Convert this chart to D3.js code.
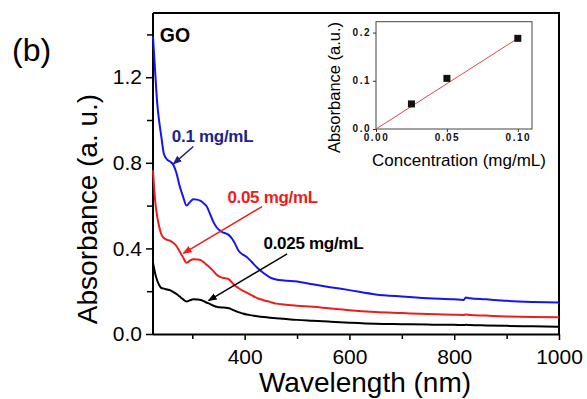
<!DOCTYPE html>
<html>
<head>
<meta charset="utf-8">
<script src="https://cdn.jsdelivr.net/npm/d3@7"></script>
<style>
  html, body { margin: 0; padding: 0; background: #fff; }
  svg { display: block; font-family: Arial, "Liberation Sans", Helvetica, sans-serif; }
</style>
</head>
<body>
<svg id="chart" width="587" height="399"></svg>
<script>
// UV-vis absorption spectra of GO dispersions at three concentrations
const wavelength = [225, 229, 233, 237, 241, 246, 252, 258, 264, 270, 276, 282, 289, 295, 302, 309, 316, 322, 328, 334,
  340, 346, 352, 358, 364, 370, 376, 382, 388, 396, 404, 414, 424, 436, 448, 460, 475, 500, 530, 560,
  600, 650, 700, 750, 800, 818, 822, 830, 860, 900, 950, 1000];

const abs010 = [1.39, 1.23, 1.08, 0.99, 0.92, 0.84, 0.815, 0.805, 0.79, 0.75, 0.69, 0.645, 0.60, 0.615, 0.63, 0.628, 0.622, 0.61, 0.595, 0.56,
  0.525, 0.50, 0.485, 0.475, 0.47, 0.462, 0.445, 0.42, 0.39, 0.372, 0.36, 0.335, 0.31, 0.285, 0.265, 0.255, 0.25, 0.245, 0.232, 0.22,
  0.205, 0.185, 0.175, 0.167, 0.162, 0.159, 0.17, 0.167, 0.162, 0.155, 0.15, 0.147];

const abs005 = [0.765, 0.626, 0.55, 0.50, 0.465, 0.448, 0.44, 0.435, 0.425, 0.41, 0.385, 0.36, 0.333, 0.342, 0.349, 0.348, 0.345, 0.335, 0.322, 0.31,
  0.295, 0.278, 0.268, 0.263, 0.26, 0.255, 0.24, 0.225, 0.215, 0.203, 0.193, 0.18, 0.168, 0.158, 0.15, 0.142, 0.138, 0.132, 0.127, 0.12,
  0.111, 0.103, 0.098, 0.093, 0.09, 0.089, 0.091, 0.089, 0.086, 0.082, 0.079, 0.078];

const abs0025 = [0.333, 0.284, 0.25, 0.228, 0.215, 0.212, 0.208, 0.204, 0.196, 0.187, 0.175, 0.163, 0.152, 0.157, 0.162, 0.161, 0.159, 0.153, 0.146, 0.14,
  0.133, 0.127, 0.125, 0.124, 0.123, 0.12, 0.114, 0.108, 0.102, 0.096, 0.091, 0.087, 0.083, 0.079, 0.076, 0.074, 0.071, 0.066, 0.062, 0.058,
  0.053, 0.048, 0.046, 0.044, 0.043, 0.042, 0.043, 0.042, 0.04, 0.038, 0.036, 0.034];

const seriesLabels = ["0.1 mg/mL", "0.05 mg/mL", "0.025 mg/mL"];
const xTicks = [400, 600, 800, 1000];
const xMinorTicks = [300, 500, 700, 900];
const yTicks = [0.0, 0.4, 0.8, 1.2];
const yMinorTicks = [0.2, 0.6, 1.0, 1.4];

// calibration inset: absorbance vs concentration
const concentration = [0.025, 0.05, 0.10];
const absAtPeak = [0.052, 0.105, 0.188];
const fitSlope = 1.88;
const fitIntercept = 0.0;
const insetXTicks = [0.00, 0.05, 0.10];
const insetYTicks = [0.0, 0.1, 0.2];

const svg = d3.select("#chart");

const x = d3.scaleLinear().domain([225, 1000]).range([153, 559]);
const y = d3.scaleLinear().domain([0, 1.5]).range([334, 13]);

const BLUE = "#1414f5", NAVY = "#1f1f8c", RED = "#ee1c1c", BLACK = "#000";

// arrowhead markers
const defs = svg.append("defs");
[["ah-navy", NAVY], ["ah-red", RED], ["ah-black", BLACK]].forEach(([id, c]) => {
  defs.append("marker").attr("id", id)
    .attr("viewBox", "0 0 10 10").attr("refX", 9).attr("refY", 5)
    .attr("markerWidth", 9).attr("markerHeight", 9).attr("markerUnits", "userSpaceOnUse")
    .attr("orient", "auto")
    .append("path").attr("d", "M0,1 L10,5 L0,9 Z").attr("fill", c);
});

// frame (top and right edges)
svg.append("path")
  .attr("d", `M${x(225)},${y(1.5)} H${x(1000)} V${y(0)}`)
  .attr("fill", "none").attr("stroke", "#000").attr("stroke-width", 2);

// axes
const xAxis = svg.append("g").attr("transform", `translate(0,${y(0)})`)
  .call(d3.axisBottom(x).tickValues(xTicks).tickSize(6).tickPadding(9).tickFormat(d3.format("d")));
svg.append("g").attr("transform", `translate(0,${y(0)})`)
  .call(d3.axisBottom(x).tickValues(xMinorTicks).tickSize(5).tickFormat(""))
  .call(g => g.select(".domain").remove());
const yAxis = svg.append("g").attr("transform", `translate(${x(225)},0)`)
  .call(d3.axisLeft(y).tickValues(yTicks).tickSize(7).tickPadding(4).tickFormat(d3.format(".1f")));
svg.append("g").attr("transform", `translate(${x(225)},0)`)
  .call(d3.axisLeft(y).tickValues(yMinorTicks).tickSize(6).tickFormat(""))
  .call(g => g.select(".domain").remove());

svg.selectAll(".domain").attr("stroke-width", 2).attr("d", null);
xAxis.select(".domain").attr("d", `M${x(225)},0.5H${x(1000)}`);
yAxis.select(".domain").attr("d", `M0,${y(0)}V${y(1.5)}`);
svg.selectAll(".tick line").attr("stroke-width", 1.5);
svg.selectAll(".tick text").attr("font-size", 21).attr("font-family", "Arial, 'Liberation Sans', sans-serif").attr("fill", "#000");

// axis titles
svg.append("text").attr("x", 365).attr("y", 392).attr("text-anchor", "middle")
  .attr("font-size", 28).text("Wavelength (nm)");
svg.append("text").attr("transform", "translate(97,209) rotate(-90)").attr("text-anchor", "middle")
  .attr("font-size", 28).text("Absorbance (a. u.)");

svg.append("text").attr("x", 12).attr("y", 61).attr("font-size", 32).text("(b)");
svg.append("text").attr("x", x(238)).attr("y", y(1.366)).attr("font-size", 19.5)
  .attr("font-weight", "bold").text("GO");

// spectra
const line = vals => d3.line().x((d, i) => x(wavelength[i])).y(d => y(d)).curve(d3.curveMonotoneX)(vals);
[[abs0025, BLACK], [abs005, RED], [abs010, BLUE]].forEach(([vals, c]) => {
  svg.append("path").attr("d", line(vals)).attr("fill", "none")
    .attr("stroke", c).attr("stroke-width", 2).attr("stroke-linejoin", "round");
});

// concentration annotations with arrows
const notes = [
  { text: seriesLabels[0], color: NAVY, marker: "ah-navy", tx: 261, ty: 0.897, from: [302, 0.876], to: [264, 0.795] },
  { text: seriesLabels[1], color: RED, marker: "ah-red", tx: 367, ty: 0.612, from: [433, 0.595], to: [283, 0.377] },
  { text: seriesLabels[2], color: BLACK, marker: "ah-black", tx: 436, ty: 0.397, from: [481, 0.374], to: [331, 0.156] }
];
notes.forEach(n => {
  svg.append("line")
    .attr("x1", x(n.from[0])).attr("y1", y(n.from[1]))
    .attr("x2", x(n.to[0])).attr("y2", y(n.to[1]))
    .attr("stroke", n.color).attr("stroke-width", 1.5)
    .attr("marker-end", `url(#${n.marker})`);
  svg.append("text").attr("x", x(n.tx)).attr("y", y(n.ty))
    .attr("font-size", 17).attr("font-weight", "bold").attr("fill", n.color)
    .attr("letter-spacing", -0.3).text(n.text);
});

// inset calibration plot
const ix = d3.scaleLinear().domain([0, 0.11]).range([376, 532]);
const iy = d3.scaleLinear().domain([0, 0.2225]).range([129, 21.7]);

const inset = svg.append("g");
inset.append("rect").attr("x", ix(0)).attr("y", iy(0.2225))
  .attr("width", ix(0.11) - ix(0)).attr("height", iy(0) - iy(0.2225))
  .attr("fill", "#fff").attr("stroke", "#444").attr("stroke-width", 1);

const ixAxis = inset.append("g").attr("transform", `translate(0,${iy(0)})`)
  .call(d3.axisBottom(ix).tickValues(insetXTicks).tickSize(3).tickPadding(2).tickFormat(d3.format(".2f")));
const iyAxis = inset.append("g").attr("transform", `translate(${ix(0)},0)`)
  .call(d3.axisLeft(iy).tickValues(insetYTicks).tickSize(3).tickPadding(2).tickFormat(d3.format(".1f")));
inset.selectAll(".domain").remove();
inset.selectAll(".tick line").attr("stroke", "#333").attr("stroke-width", 1);
inset.selectAll(".tick text").attr("font-size", 10).attr("font-weight", "bold")
  .attr("letter-spacing", 1.5).attr("fill", "#111").attr("font-family", "Arial, 'Liberation Sans', sans-serif");
iyAxis.selectAll(".tick text").attr("dy", "0.25em");

inset.append("line")
  .attr("x1", ix(0)).attr("y1", iy(fitIntercept))
  .attr("x2", ix(0.1)).attr("y2", iy(fitIntercept + fitSlope * 0.1))
  .attr("stroke", "#e04848").attr("stroke-width", 1);

inset.selectAll("rect.pt").data(concentration).join("rect").attr("class", "pt")
  .attr("x", (d) => ix(d) - 3.5).attr("y", (d, i) => iy(absAtPeak[i]) - 3.5)
  .attr("width", 7).attr("height", 7).attr("fill", "#111");

inset.append("text").attr("x", 459).attr("y", 166).attr("text-anchor", "middle")
  .attr("font-size", 17).text("Concentration (mg/mL)");
inset.append("text").attr("transform", "translate(340,87.5) rotate(-90)").attr("text-anchor", "middle")
  .attr("font-size", 16.5).text("Absorbance (a.u.)");
</script>
</body>
</html>
